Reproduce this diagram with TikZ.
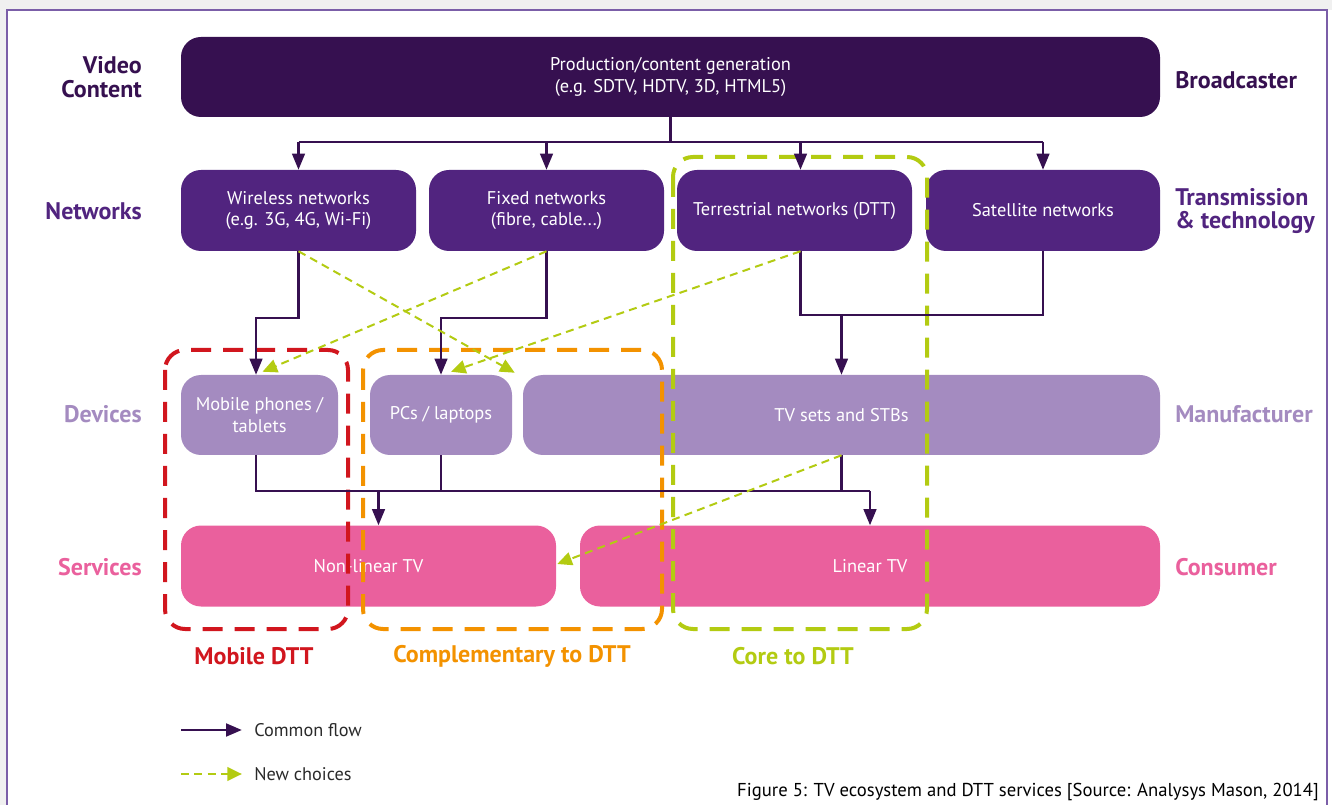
\documentclass[tikz,border=0pt]{standalone}
\usepackage{fontspec}
\setmainfont{PT Sans}
\usetikzlibrary{arrows.meta,calc}
\definecolor{cDark}{HTML}{361050}
\definecolor{cPurple}{HTML}{51247F}
\definecolor{cLilac}{HTML}{A48BC0}
\definecolor{cPink}{HTML}{EA609D}
\definecolor{cGreen}{HTML}{B3CB12}
\definecolor{cOrange}{HTML}{F39200}
\definecolor{cRed}{HTML}{D1161E}
\definecolor{cFrame}{HTML}{7B5EA8}
\definecolor{cText}{HTML}{2A2A2A}
\begin{document}
\begin{tikzpicture}[x=0.75pt,y=-0.75pt,
  box/.style={rounded corners=15pt, inner sep=0pt, text=white, align=center,
    font=\fontsize{13.8}{16}\selectfont},
  sz/.style 2 args={minimum width={#1*0.75pt}, minimum height={#2*0.75pt}},
  lab/.style={font=\fontsize{18}{17.5}\selectfont\bfseries, inner sep=0pt},
  grp/.style={line width=3pt, rounded corners=15pt, dash pattern=on 15pt off 9pt},
  ln/.style={draw=cDark, line width=1.6pt},
  arr/.style={ln, -{Triangle[length=12pt,width=9.5pt]}},
  newarr/.style={draw=cGreen, line width=1.5pt, dash pattern=on 6pt off 4pt,
    -{Triangle[length=11pt,width=10pt]}},
  txt/.style={font=\fontsize{13.7}{15}\selectfont, text=cText, inner sep=0pt}
]
\useasboundingbox (0,0) rectangle (1332,805);
\fill[black!6] (0,0) rectangle (1332,10);
\fill[black!6] (0,0) rectangle (7,805);
\draw[cFrame, line width=1.3pt] (7,10) rectangle (1327,840);

% boxes
\node[box, fill=cDark, sz={979}{80}] (top) at (670.5,77)
  {Production/content generation\\(e.g. SDTV, HDTV, 3D, HTML5)};
\node[box, fill=cPurple, sz={235}{81}] (wl) at (298.5,210.5)
  {Wireless networks\\(e.g. 3G, 4G, Wi-Fi)};
\node[box, fill=cPurple, sz={235}{81}] (fx) at (546.5,210.5)
  {Fixed networks\\(fibre, cable...)};
\node[box, fill=cPurple, sz={235}{81}] (tr) at (794.5,210.5)
  {Terrestrial networks (DTT)};
\node[box, fill=cPurple, sz={234}{81}] (sat) at (1043,210.5)
  {Satellite networks};
\node[box, fill=cLilac, sz={157}{80}] (mob) at (259.5,415)
  {Mobile phones /\\tablets};
\node[box, fill=cLilac, sz={142}{80}] (pc) at (441,415)
  {PCs / laptops};
\node[box, fill=cLilac, sz={637}{80}] (tv) at (841.5,415)
  {TV sets and STBs};
\node[box, fill=cPink, sz={375}{81}] (nl) at (368.5,566)
  {Non-linear TV};
\node[box, fill=cPink, sz={580}{81}] (lin) at (870,566)
  {Linear TV};

% side labels
\node[lab, text=cDark, anchor=east, align=right] (lvc) at (142,77) {Video\\Content};
\node[lab, text=cPurple, anchor=east] (lnw) at (142,211) {Networks};
\node[lab, text=cLilac, anchor=east] (ldv) at (142,414) {Devices};
\node[lab, text=cPink, anchor=east] (lsv) at (142,567) {Services};
\node[lab, text=cDark, anchor=west] (rbc) at (1175,80) {Broadcaster};
\node[lab, text=cPurple, anchor=west, align=left] (rtt) at (1175,211) {Transmission\\\& technology};
\node[lab, text=cLilac, anchor=west] (rmf) at (1175,414) {Manufacturer};
\node[lab, text=cPink, anchor=west] (rcs) at (1175,567) {Consumer};

% group frames
\draw[grp, cRed] (165,350) rectangle (348,629);
\draw[grp, cOrange] (363,350) rectangle (662,629);
\draw[grp, cGreen] (673,157) rectangle (927,629);
\node[lab, text=cRed] (gm) at (254,656) {Mobile DTT};
\node[lab, text=cOrange] (gc) at (512,656) {Complementary to DTT};
\node[lab, text=cGreen] (gk) at (793,656) {Core to DTT};

% connectors: content -> networks
\coordinate (bus1) at (0,142);
\coordinate (trx) at ([xshift=4.5pt]tr.north);
\coordinate (trs) at ([xshift=4.5pt]tr.south);
\draw[ln] (top.south) -- (top.south |- bus1);
\draw[ln] (wl.north |- bus1) -- (sat.north |- bus1);
\draw[arr] (wl.north |- bus1) -- (wl.north);
\draw[arr] (fx.north |- bus1) -- (fx.north);
\draw[arr] (trx |- bus1) -- (trx);
\draw[arr] (sat.north |- bus1) -- (sat.north);

% networks -> devices
\coordinate (bus2) at (0,318);
\coordinate (bus3) at (0,315);
\coordinate (mobin) at ([xshift=-2.6pt]mob.north);
\draw[arr] (wl.south) -- (wl.south |- bus2) -| (mobin);
\draw[arr] (fx.south) -- (fx.south |- bus2) -| (pc.north);
\draw[ln] (trs) -- (trs |- bus3) -| (sat.south);
\draw[arr] (tv.north |- bus3) -- (tv.north);

% devices -> services
\coordinate (bus4) at (0,491);
\coordinate (mobout) at ([xshift=-2.6pt]mob.south);
\coordinate (nlin) at ([xshift=7.5pt]nl.north);
\draw[ln] (mobout) |- (lin.north |- bus4);
\draw[arr] (lin.north |- bus4) -- (lin.north);
\draw[ln] (pc.south) -- (pc.south |- bus4);
\draw[ln] (tv.south) -- (tv.south |- bus4);
\draw[arr] (nlin |- bus4) -- (nlin);

% new choices
\draw[newarr] (wl.south) -- ([shift={(-8,-2)}]tv.north west);
\draw[newarr] (fx.south) -- ([shift={(3,-3)}]mob.north);
\draw[newarr] (trs) -- ([shift={(10,-3)}]pc.north);
\draw[newarr] (tv.south) -- ([shift={(1,-2)}]nl.east);

% legend
\coordinate (la) at (181,730);
\coordinate (lb) at (242,730);
\coordinate (lc) at (181,774);
\coordinate (ld) at (242,774);
\draw[arr, line width=2.2pt] (la) -- (lb);
\draw[newarr, line width=2.2pt] (lc) -- (ld);
\node[txt, anchor=west] (lt1) at (254,730) {Common flow};
\node[txt, anchor=west] (lt2) at (254,774) {New choices};

% caption
\node[txt, anchor=east, text=black, font=\fontsize{14}{15}\selectfont] (cap) at (1319,792)
  {Figure 5: TV ecosystem and DTT services [Source: Analysys Mason, 2014]};
\end{tikzpicture}
\end{document}
